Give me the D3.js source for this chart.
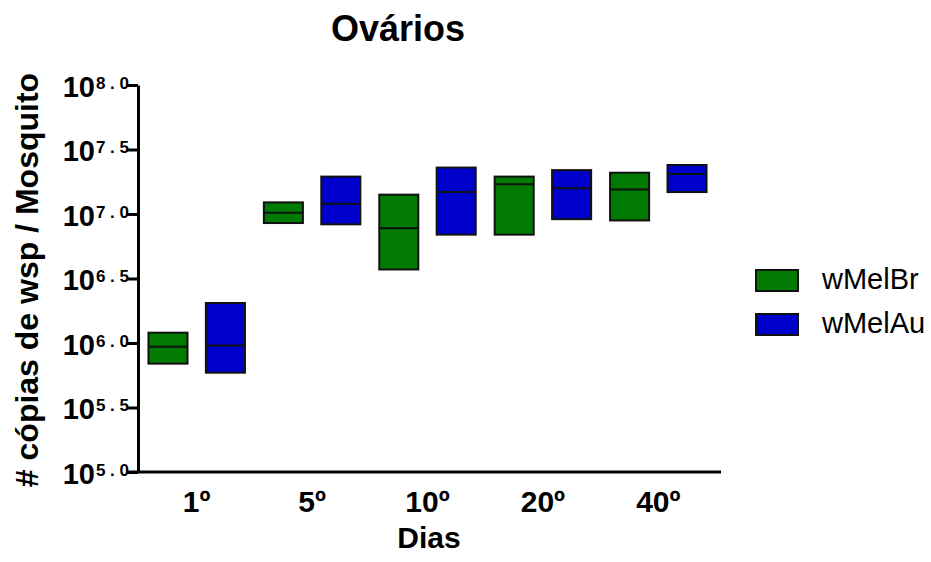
<!DOCTYPE html>
<html>
<head>
<meta charset="utf-8">
<script src="https://cdn.jsdelivr.net/npm/d3@7"></script>
<style>
  html, body { margin: 0; padding: 0; background: #fff; }
  svg { display: block; font-family: "Liberation Sans", Arial, sans-serif; }
</style>
</head>
<body>
<svg id="chart" width="931" height="562"></svg>
<script>
// ---- data (values are log10 of wsp copies per mosquito) ----
const categories = ["1º", "5º", "10º", "20º", "40º"];
const seriesNames = ["wMelBr", "wMelAu"];
const seriesColors = ["#007a00", "#0000cc"];
const wMelBrLow  = [5.84, 6.93, 6.57, 6.84, 6.95];
const wMelBrMid  = [5.97, 7.01, 6.89, 7.23, 7.19];
const wMelBrHigh = [6.08, 7.09, 7.15, 7.29, 7.32];
const wMelAuLow  = [5.77, 6.92, 6.84, 6.96, 7.17];
const wMelAuMid  = [5.98, 7.08, 7.17, 7.20, 7.31];
const wMelAuHigh = [6.31, 7.29, 7.36, 7.34, 7.38];
const yTicks = [5.0, 5.5, 6.0, 6.5, 7.0, 7.5, 8.0];
const yTickLabels = ["5.0", "5.5", "6.0", "6.5", "7.0", "7.5", "8.0"];
const title = "Ovários";
const xTitle = "Dias";
const yTitle = "# cópias de wsp / Mosquito";

const series = [
  { name: seriesNames[0], color: seriesColors[0], low: wMelBrLow, mid: wMelBrMid, high: wMelBrHigh },
  { name: seriesNames[1], color: seriesColors[1], low: wMelAuLow, mid: wMelAuMid, high: wMelAuHigh }
];
const rows = [];
series.forEach(s => categories.forEach((c, i) => rows.push({
  cat: c, name: s.name, color: s.color, low: s.low[i], mid: s.mid[i], high: s.high[i]
})));

// ---- layout ----
const svg = d3.select("#chart");
const axisX = 138, axisY0 = 472, axisTop = 85, axisRight = 721;

const x = d3.scaleBand().domain(categories).range([axisX + 1, 716]).padding(0);
const bw = x.bandwidth();
const x1 = d3.scaleBand().domain(seriesNames).range([bw * 0.082, bw * 0.918]).paddingInner(0.32);
const y = d3.scaleLinear().domain([5, 8]).range([axisY0, axisTop]);

// boxes
const g = svg.append("g");
const box = g.selectAll("g.box").data(rows).join("g")
  .attr("transform", d => `translate(${x(d.cat) + x1(d.name)},0)`);
box.append("rect")
  .attr("x", 0).attr("width", x1.bandwidth())
  .attr("y", d => y(d.high))
  .attr("height", d => y(d.low) - y(d.high))
  .attr("fill", d => d.color)
  .attr("stroke", "#111").attr("stroke-width", 2);
box.append("line")
  .attr("x1", 0).attr("x2", x1.bandwidth())
  .attr("y1", d => y(d.mid)).attr("y2", d => y(d.mid))
  .attr("stroke", "#111").attr("stroke-width", 2);

// y axis
const yAxis = d3.axisLeft(y).tickValues(yTicks).tickSize(11).tickSizeOuter(0).tickFormat("");
const ya = svg.append("g").attr("transform", `translate(${axisX},0)`).call(yAxis);
ya.select(".domain").attr("stroke", "#000").attr("stroke-width", 3);
ya.selectAll(".tick line").attr("stroke", "#000").attr("stroke-width", 3);
ya.selectAll(".tick text").remove();
ya.selectAll(".tick").each(function(d, i) {
  const t = d3.select(this).append("text")
    .attr("x", -9).attr("y", 0)
    .attr("text-anchor", "end")
    .attr("fill", "#000")
    .attr("font-weight", "bold");
  t.append("tspan").attr("font-size", 29).attr("dy", 11).text("10");
  t.append("tspan").attr("font-size", 17).attr("dy", -8).attr("dx", 1)
    .text(yTickLabels[yTicks.indexOf(d)].split("").join(" "));
});

// x axis
const xAxis = d3.axisBottom(x).tickSize(0).tickSizeOuter(0);
const xa = svg.append("g").attr("transform", `translate(0,${axisY0})`).call(xAxis);
xa.select(".domain").remove();
xa.append("line").attr("x1", 127).attr("x2", axisRight).attr("y1", 0).attr("y2", 0)
  .attr("stroke", "#000").attr("stroke-width", 3);
xa.selectAll(".tick text")
  .attr("y", 40).attr("dy", 0)
  .attr("font-size", 30).attr("font-weight", "bold")
  .attr("font-family", "Liberation Sans, Arial, sans-serif")
  .attr("fill", "#000");

// titles
svg.append("text").attr("x", 398).attr("y", 41).attr("text-anchor", "middle")
  .attr("font-size", 36).attr("font-weight", "bold").text(title);
svg.append("text").attr("x", 429).attr("y", 548).attr("text-anchor", "middle")
  .attr("font-size", 30).attr("font-weight", "bold").text(xTitle);
svg.append("text")
  .attr("transform", "translate(38,280) rotate(-90)")
  .attr("text-anchor", "middle")
  .attr("font-size", 32).attr("font-weight", "bold").text(yTitle);

// legend
const leg = svg.append("g").selectAll("g").data(series).join("g")
  .attr("transform", (d, i) => `translate(756,${270 + i * 44})`);
leg.append("rect").attr("width", 42).attr("height", 21)
  .attr("fill", d => d.color).attr("stroke", "#111").attr("stroke-width", 2);
leg.append("text").attr("x", 66).attr("y", 19)
  .attr("font-size", 29).attr("fill", "#000").text(d => d.name);
</script>
</body>
</html>
